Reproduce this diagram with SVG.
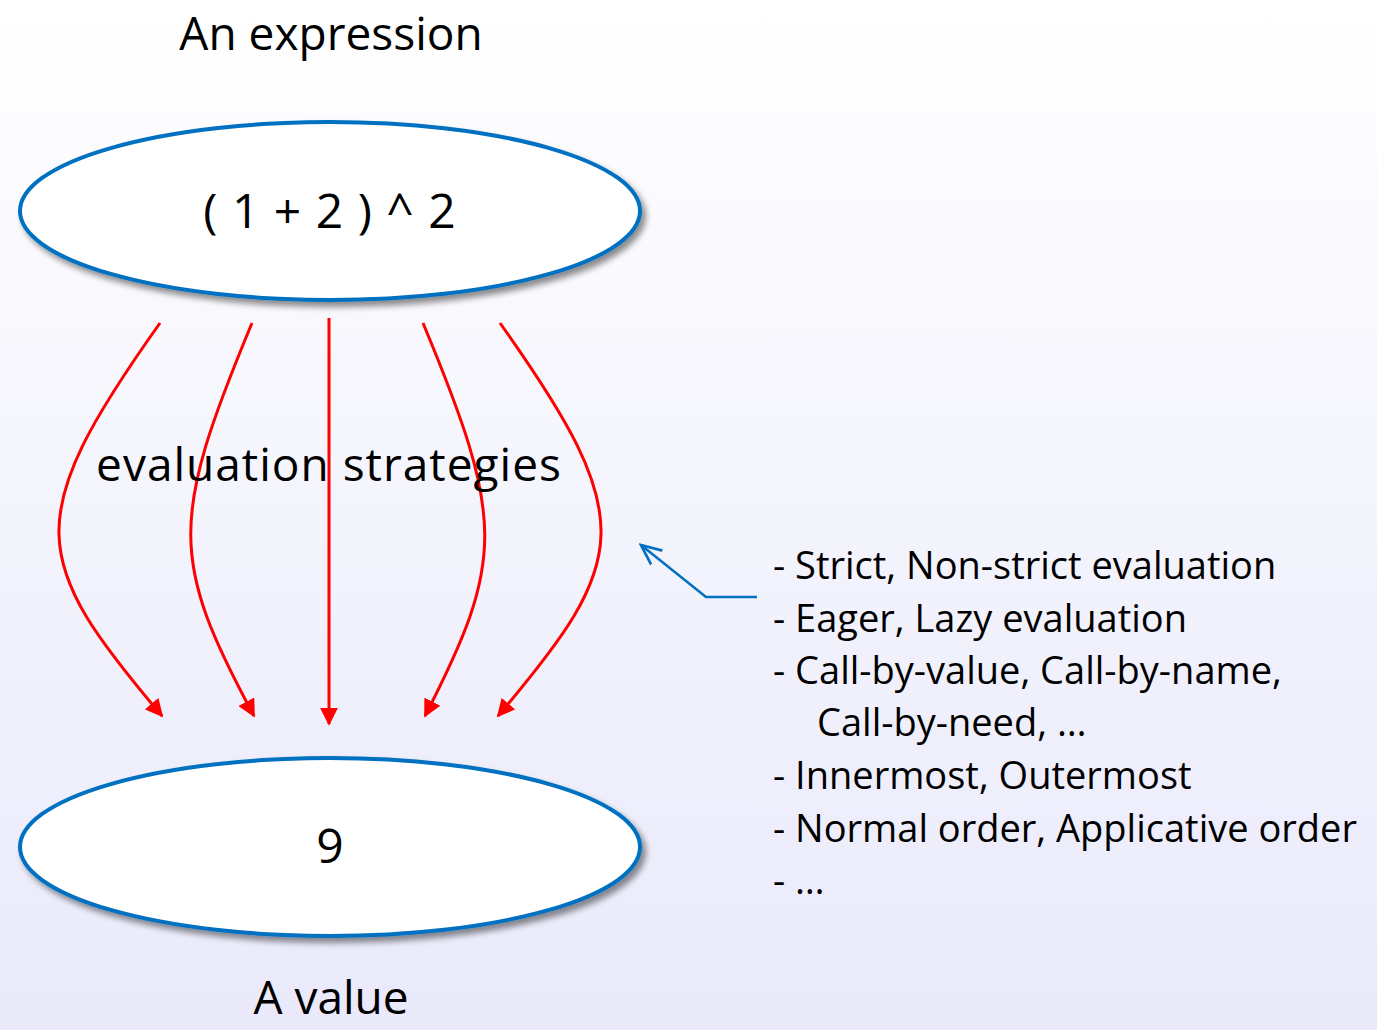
<svg xmlns="http://www.w3.org/2000/svg" width="1377" height="1030" viewBox="0 0 1377 1030">
<defs>
<linearGradient id="bg" x1="0" y1="0" x2="0" y2="1">
<stop offset="0" stop-color="#ffffff"/>
<stop offset="1" stop-color="#e9e9fb"/>
</linearGradient>
<filter id="sh" x="-10%" y="-10%" width="125%" height="130%">
<feGaussianBlur in="SourceAlpha" stdDeviation="3"/>
<feOffset dx="4" dy="5"/>
<feComponentTransfer><feFuncA type="linear" slope="0.45"/></feComponentTransfer>
<feMerge><feMergeNode/><feMergeNode in="SourceGraphic"/></feMerge>
</filter>
<marker id="ah" viewBox="0 0 10 10" refX="9" refY="5" markerWidth="6" markerHeight="6" markerUnits="strokeWidth" orient="auto">
<path d="M0,0 L10,5 L0,10 z" fill="#ff0000"/>
</marker>
<marker id="bh" viewBox="0 0 10 10" refX="9" refY="5" markerWidth="9" markerHeight="9" markerUnits="strokeWidth" orient="auto">
<path d="M0,1 L9,5 L0,9" fill="none" stroke="#0070c0" stroke-width="1.2"/>
</marker>
</defs>
<style>
text{font-family:"Open Sans","Noto Sans","DejaVu Sans",sans-serif;fill:#000}
.node{fill:#ffffff;stroke:#0070c0;stroke-width:4}
.red{fill:none;stroke:#ff0000;stroke-width:3;marker-end:url(#ah)}
.lst{font-size:38px}
</style>
<rect width="1377" height="1030" fill="url(#bg)"/>
<text x="331" y="50" font-size="46" text-anchor="middle">An expression</text>
<g id="expr">
<ellipse class="node" cx="330" cy="211" rx="310" ry="89" filter="url(#sh)"/>
<text x="330" y="228" font-size="48" letter-spacing="1" text-anchor="middle">( 1 + 2 ) ^ 2</text>
</g>
<g id="value">
<ellipse class="node" cx="330" cy="847" rx="310" ry="89" filter="url(#sh)"/>
<text x="330" y="863" font-size="48" text-anchor="middle">9</text>
</g>
<g id="connectors">
<path class="red" d="M160,323 C20,520 30,560 162,716"/>
<path class="red" d="M252,323 C170,520 170,560 254,716"/>
<path class="red" d="M329,318 L329,724"/>
<path class="red" d="M423,323 C505,520 505,560 425,716"/>
<path class="red" d="M500,323 C640,520 630,560 498,716"/>
<polyline points="757,597 706,597 641,545" fill="none" stroke="#0070c0" stroke-width="2.5" marker-end="url(#bh)"/>
</g>
<text x="329" y="481" font-size="46" letter-spacing="1" text-anchor="middle">evaluation strategies</text>
<text x="331" y="1014" font-size="46" text-anchor="middle">A value</text>
<g id="list">
<text class="lst" x="773" y="579">- Strict, Non-strict evaluation</text>
<text class="lst" x="773" y="632">- Eager, Lazy evaluation</text>
<text class="lst" x="773" y="684">- Call-by-value, Call-by-name,</text>
<text class="lst" x="817" y="736">Call-by-need, …</text>
<text class="lst" x="773" y="789">- Innermost, Outermost</text>
<text class="lst" x="773" y="842">- Normal order, Applicative order</text>
<text class="lst" x="773" y="894">- …</text>
</g>
</svg>
